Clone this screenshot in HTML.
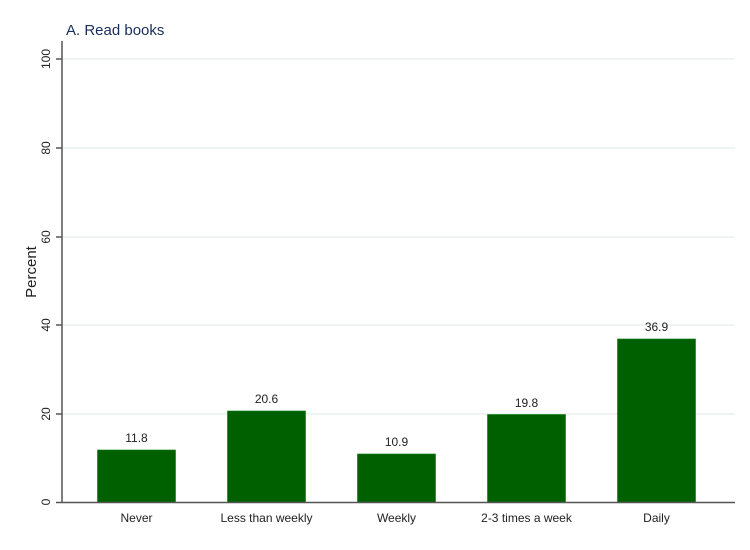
<!DOCTYPE html>
<html><head><style>body{margin:0;background:#fff}</style></head><body>
<svg width="750" height="545" xmlns="http://www.w3.org/2000/svg" font-family="Liberation Sans, Arial, sans-serif">
<rect width="750" height="545" fill="#fff"/>
<g stroke="#eaf0ef" stroke-width="1.5">
<line x1="63" x2="735" y1="59" y2="59"/><line x1="63" x2="735" y1="148" y2="148"/><line x1="63" x2="735" y1="237" y2="237"/><line x1="63" x2="735" y1="325" y2="325"/><line x1="63" x2="735" y1="414" y2="414"/>
</g>
<text x="66" y="35" font-size="15" fill="#1a2e5a">A. Read books</text>
<g fill="#006000" stroke="#0a7a0a" stroke-width="0.6">
<rect x="97.5" y="450" width="78" height="52"/>
<rect x="227.5" y="411" width="78" height="91"/>
<rect x="357.5" y="454" width="78" height="48"/>
<rect x="487.5" y="414.5" width="78" height="87.5"/>
<rect x="617.5" y="339" width="78" height="163"/>
</g>
<g stroke="#555" stroke-width="1.5">
<line x1="62" y1="41" x2="62" y2="503"/><line x1="62" y1="502.5" x2="735" y2="502.5"/>
<line x1="56" x2="62" y1="59" y2="59"/><line x1="56" x2="62" y1="148" y2="148"/><line x1="56" x2="62" y1="237" y2="237"/><line x1="56" x2="62" y1="325" y2="325"/><line x1="56" x2="62" y1="414" y2="414"/><line x1="56" x2="62" y1="502.5" y2="502.5"/>
</g>
<g font-size="12" fill="#222" text-anchor="middle">
<text transform="translate(50,59) rotate(-90)">100</text>
<text transform="translate(50,148) rotate(-90)">80</text>
<text transform="translate(50,237) rotate(-90)">60</text>
<text transform="translate(50,325) rotate(-90)">40</text>
<text transform="translate(50,414) rotate(-90)">20</text>
<text transform="translate(50,502) rotate(-90)">0</text>
<text transform="translate(36,272) rotate(-90)" font-size="15">Percent</text>
<text x="136.5" y="442">11.8</text><text x="266.5" y="403">20.6</text><text x="396.5" y="446">10.9</text><text x="526.5" y="407">19.8</text><text x="656.5" y="331">36.9</text>
<text x="136.5" y="522">Never</text><text x="266.5" y="522">Less than weekly</text><text x="396.5" y="522">Weekly</text><text x="526.5" y="522">2-3 times a week</text><text x="656.5" y="522">Daily</text>
</g>
</svg>
</body></html>
